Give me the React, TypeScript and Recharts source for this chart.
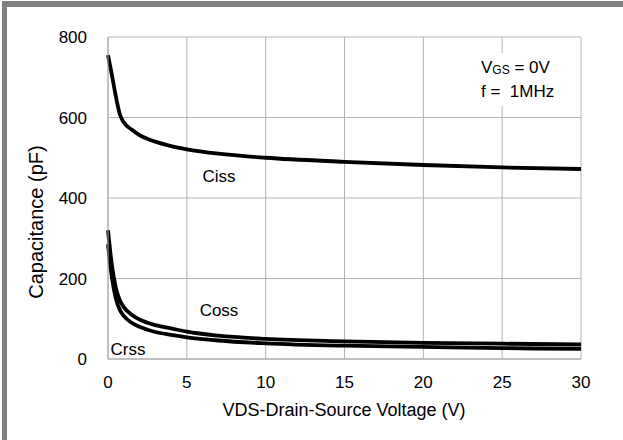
import { LineChart, Line, XAxis, YAxis, CartesianGrid } from 'recharts';

const voltage = [0, 0.25, 0.5, 0.75, 1, 1.5, 2, 3, 4, 5, 7, 10, 15, 20, 25, 30];
const ciss = [755, 705, 652, 608, 588, 570, 556, 540, 529, 521, 510, 500, 490, 482, 476, 472];
const coss = [320, 232, 176, 146, 129, 110, 98, 84, 76, 68, 58, 50, 44, 40, 38, 36];
const crss = [285, 202, 150, 122, 107, 90, 80, 67, 60, 54, 46, 39, 33, 30, 27, 25];

const xTicks = [0, 5, 10, 15, 20, 25, 30];
const yTicks = [0, 200, 400, 600, 800];

const FONT = '"Liberation Sans", Arial, sans-serif';

const chartData = voltage.map((v, i) => ({
    v,
    ciss: ciss[i],
    coss: coss[i],
    crss: crss[i],
}));

const tickStyle = { fill: '#000', fontSize: 17, fontFamily: FONT };

const Tag = ({ x, y, text }: { x: number; y: number; text: string }) => (
    <div style={{ position: 'absolute', left: x, top: y, transform: 'translate(-50%, -50%)', fontSize: 17, whiteSpace: 'nowrap' }}>
        {text}
    </div>
);

const App = () => {
    return (
        <div style={{ position: 'absolute', top: 0, left: 0, width: 623, height: 440, background: '#fff', fontFamily: FONT, color: '#000', overflow: 'hidden' }}>
            <div style={{ position: 'absolute', left: 2, top: 1, width: 621, height: 6, background: '#808080' }} />
            <div style={{ position: 'absolute', left: 2, top: 1, width: 5, height: 439, background: '#808080' }} />
            <div style={{ position: 'absolute', left: 0, top: 0 }}>
                <LineChart width={623} height={440} data={chartData} margin={{ top: 37, right: 42, left: 8, bottom: 51 }}>
                    <CartesianGrid stroke="#b4b4b4" strokeWidth={1} />
                    <XAxis
                        dataKey="v"
                        type="number"
                        domain={[0, 30]}
                        ticks={xTicks}
                        height={30}
                        tickLine={false}
                        tickSize={10}
                        tickMargin={7}
                        stroke="#a8a8a8"
                        tick={tickStyle}
                    />
                    <YAxis
                        type="number"
                        domain={[0, 800]}
                        ticks={yTicks}
                        width={100}
                        tickLine={false}
                        tickSize={10}
                        tickMargin={11}
                        stroke="#a8a8a8"
                        tick={tickStyle}
                    />
                    <Line type="monotone" dataKey="ciss" stroke="#000" strokeWidth={3.8} dot={false} isAnimationActive={false} />
                    <Line type="monotone" dataKey="coss" stroke="#000" strokeWidth={3.8} dot={false} isAnimationActive={false} />
                    <Line type="monotone" dataKey="crss" stroke="#000" strokeWidth={3.8} dot={false} isAnimationActive={false} />
                </LineChart>
            </div>
            <Tag x={219} y={177} text="Ciss" />
            <Tag x={219} y={311} text="Coss" />
            <Tag x={128} y={350} text="Crss" />
            <div style={{ position: 'absolute', left: 481, top: 53, width: 78, padding: '4px 0', background: '#fff', fontSize: 17, lineHeight: '21px', whiteSpace: 'nowrap' }}>
                <div>V<span style={{ fontSize: 12, verticalAlign: -1 }}>GS</span> = 0V</div>
                <div>f = &nbsp;1MHz</div>
            </div>
            <div style={{ position: 'absolute', left: 344, top: 410, transform: 'translate(-50%, -50%)', fontSize: 18, whiteSpace: 'nowrap' }}>
                VDS-Drain-Source Voltage (V)
            </div>
            <div style={{ position: 'absolute', left: 36, top: 222, transform: 'translate(-50%, -50%) rotate(-90deg)', fontSize: 20, whiteSpace: 'nowrap' }}>
                Capacitance (pF)
            </div>
        </div>
    );
};

export default App;
